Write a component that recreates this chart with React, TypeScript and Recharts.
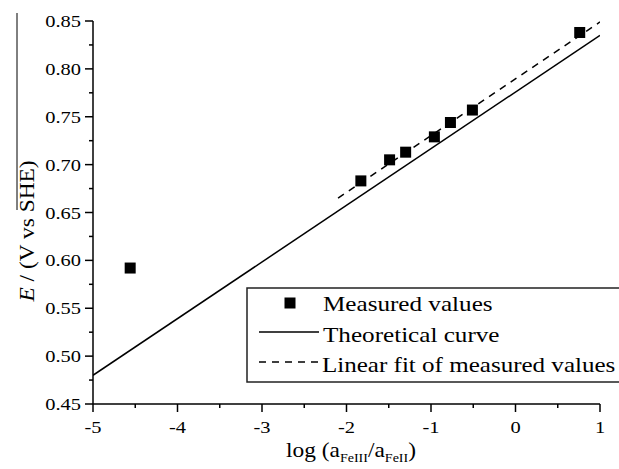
import { ComposedChart, Line, Scatter, XAxis, YAxis } from "recharts";

const measuredX = [-4.56, -1.83, -1.49, -1.3, -0.96, -0.77, -0.51, 0.76];
const measuredE = [0.592, 0.683, 0.705, 0.713, 0.729, 0.744, 0.757, 0.838];
const theoryX = [-5, 1];
const theoryE = [0.48, 0.835];
const fitX = [-2.1, 1];
const fitE = [0.665, 0.849];

const xMajor = [-5, -4, -3, -2, -1, 0, 1];
const xMinor = [-4.5, -3.5, -2.5, -1.5, -0.5, 0.5];
const yMajor = [0.45, 0.5, 0.55, 0.6, 0.65, 0.7, 0.75, 0.8, 0.85];
const yMinor = [0.475, 0.525, 0.575, 0.625, 0.675, 0.725, 0.775, 0.825];

const measured = measuredX.map((x, i) => ({ x, y: measuredE[i] }));
const theory = theoryX.map((x, i) => ({ x, y: theoryE[i] }));
const fit = fitX.map((x, i) => ({ x, y: fitE[i] }));

const FONT = "'Liberation Serif', 'Times New Roman', serif";
const SX = 1.17;

const isMajor = (v: number, list: number[]) => list.some((m) => Math.abs(m - v) < 1e-6);

function SText({ x, y, size, anchor = "start", children, sx = SX }: any) {
  return (
    <text
      transform={`translate(${x},${y}) scale(${sx},1)`}
      fontSize={size}
      textAnchor={anchor}
      fontFamily={FONT}
      fill="#000"
    >
      {children}
    </text>
  );
}

function XTick({ x, y, payload }: any) {
  const major = isMajor(payload.value, xMajor);
  return (
    <g>
      <line x1={x} x2={x} y1={y} y2={y + (major ? 8 : 4)} stroke="#000" strokeWidth={1.5} />
      {major && (
        <SText x={x} y={y + 29} size={17.5} anchor="middle">
          {String(payload.value)}
        </SText>
      )}
    </g>
  );
}

function YTick({ x, y, payload }: any) {
  const major = isMajor(payload.value, yMajor);
  return (
    <g>
      <line x1={x - (major ? 8 : 4)} x2={x} y1={y} y2={y} stroke="#000" strokeWidth={1.5} />
      {major && (
        <SText x={x - 12} y={y + 6} size={17.5} anchor="end">
          {payload.value.toFixed(2)}
        </SText>
      )}
    </g>
  );
}

const Square = ({ cx, cy }: any) => <rect x={cx - 5.5} y={cy - 5.5} width={11} height={11} fill="#000" />;

export default function App() {
  return (
    <div style={{ position: "fixed", left: 0, top: 0, width: 619, height: 469, background: "#fff", overflow: "hidden" }}>
      <ComposedChart width={619} height={469} margin={{ top: 21, right: 19, left: 0, bottom: 0 }}>
        <XAxis
          type="number"
          dataKey="x"
          domain={[-5, 1]}
          ticks={[...xMajor, ...xMinor].sort((a, b) => a - b)}
          interval={0}
          tickSize={0}
          tickMargin={0}
          tickLine={false}
          tick={<XTick />}
          height={65}
          axisLine={{ stroke: "#000", strokeWidth: 1.5 }}
          allowDataOverflow
        />
        <YAxis
          type="number"
          dataKey="y"
          domain={[0.45, 0.85]}
          ticks={[...yMajor, ...yMinor].sort((a, b) => a - b)}
          interval={0}
          tickSize={0}
          tickMargin={0}
          tickLine={false}
          tick={<YTick />}
          width={93}
          axisLine={{ stroke: "#000", strokeWidth: 1.5 }}
          allowDataOverflow
        />
        <Line data={theory} dataKey="y" type="linear" stroke="#000" strokeWidth={1.5} dot={false} isAnimationActive={false} />
        <Line data={fit} dataKey="y" type="linear" stroke="#000" strokeWidth={1.5} strokeDasharray="7 6" dot={false} isAnimationActive={false} />
        <Scatter data={measured} dataKey="y" shape={<Square />} isAnimationActive={false} />
      </ComposedChart>

      <svg width={619} height={469} style={{ position: "absolute", left: 0, top: 0, pointerEvents: "none" }}>
        {/* legend box runs off the right edge like the original */}
        <rect x={247} y={288} width={400} height={94} fill="#fff" stroke="#222" strokeWidth={1.5} />
        <rect x={284.5} y={297.5} width={11} height={11} fill="#000" />
        <line x1={259} x2={319} y1={332} y2={332} stroke="#000" strokeWidth={1.5} />
        <line x1={259} x2={319} y1={362} y2={362} stroke="#000" strokeWidth={1.5} strokeDasharray="7 6" />
        <SText x={323} y={311} size={21.5} sx={1.17}>Measured values</SText>
        <SText x={323} y={342} size={21.5} sx={1.17}>Theoretical curve</SText>
        <SText x={322} y={372} size={21.5} sx={1.165}>Linear fit of measured values</SText>

        {/* axis titles */}
        <SText x={351} y={457} size={20} anchor="middle">
          log (a<tspan fontSize={12} dy={5}>FeIII</tspan>
          <tspan dy={-5}>/a</tspan>
          <tspan fontSize={12} dy={5}>FeII</tspan>
          <tspan dy={-5}>)</tspan>
        </SText>
        <text
          transform={`translate(34,231) rotate(-90) scale(${SX},1)`}
          fontSize={20}
          textAnchor="middle"
          fontFamily={FONT}
          fill="#000"
        >
          <tspan fontStyle="italic">E</tspan> / (V vs SHE)
        </text>
        <line x1={17} x2={17} y1={13} y2={210} stroke="#000" strokeWidth={1} />
      </svg>
    </div>
  );
}
